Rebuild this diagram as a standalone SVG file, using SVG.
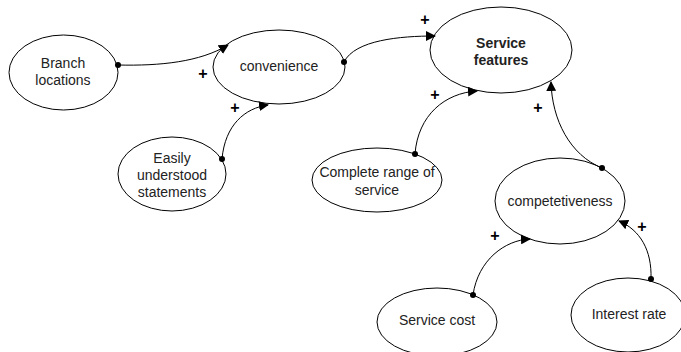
<svg xmlns="http://www.w3.org/2000/svg" width="681" height="352" viewBox="0 0 681 352">
<style>
.n ellipse{fill:#fff;stroke:#000;stroke-width:1}
text{font-family:"Liberation Sans",Arial,sans-serif;font-size:14px;fill:#222;text-anchor:middle}
.b{font-weight:bold}
.e{fill:none;stroke:#000;stroke-width:1}
.d{fill:#000}
.p{font-size:16px;font-weight:bold;fill:#000}
</style>
<defs>
<marker id="ah" viewBox="0 0 10 10" refX="9" refY="5" markerWidth="10" markerHeight="10" markerUnits="userSpaceOnUse" orient="auto">
<path d="M0,0 L10,5 L0,10 Z" fill="#000"/>
</marker>
</defs>
<g id="branch" class="n"><ellipse cx="63.5" cy="72.5" rx="54.5" ry="37.5"/><text x="63" y="68">Branch</text><text x="63" y="85">locations</text></g>
<g id="convenience" class="n"><ellipse cx="279" cy="67" rx="66" ry="37"/><text x="279" y="71">convenience</text></g>
<g id="easily" class="n"><ellipse cx="172" cy="174" rx="54" ry="37"/><text x="172" y="163">Easily</text><text x="172" y="180">understood</text><text x="172" y="197">statements</text></g>
<g id="service" class="n"><ellipse cx="501" cy="50" rx="71" ry="43"/><text class="b" x="501" y="48">Service</text><text class="b" x="501" y="65">features</text></g>
<g id="complete" class="n"><ellipse cx="377" cy="180" rx="65" ry="32"/><text x="377" y="177">Complete range of</text><text x="377" y="195">service</text></g>
<g id="competetiveness" class="n"><ellipse cx="560" cy="201" rx="65" ry="43"/><text x="560" y="206">competetiveness</text></g>
<g id="servicecost" class="n"><ellipse cx="437" cy="322" rx="60" ry="34"/><text x="437" y="325">Service cost</text></g>
<g id="interest" class="n"><ellipse cx="628" cy="315" rx="57" ry="37"/><text x="629" y="319">Interest rate</text></g>
<g id="connectors">
<path class="e" d="M118,65 C160,66 200,62 228,45" marker-end="url(#ah)"/>
<path class="e" d="M222,159 C225,125 245,108 268,105" marker-end="url(#ah)"/>
<path class="e" d="M344,62 C355,40 400,36 435,36" marker-end="url(#ah)"/>
<path class="e" d="M415,154 C418,115 445,93 477,91" marker-end="url(#ah)"/>
<path class="e" d="M602,168 C570,155 552,120 551,82" marker-end="url(#ah)"/>
<path class="e" d="M473,295 C478,260 505,240 530,239" marker-end="url(#ah)"/>
<path class="e" d="M651,279 C652,250 640,230 619,221" marker-end="url(#ah)"/>
<circle class="d" cx="118" cy="65" r="3"/>
<circle class="d" cx="222" cy="159" r="3"/>
<circle class="d" cx="344" cy="62" r="3"/>
<circle class="d" cx="415" cy="154" r="3"/>
<circle class="d" cx="602" cy="168" r="3"/>
<circle class="d" cx="473" cy="295" r="3"/>
<circle class="d" cx="651" cy="279" r="3"/>
<text class="p" x="203" y="79">+</text>
<text class="p" x="235" y="113">+</text>
<text class="p" x="425" y="25">+</text>
<text class="p" x="435" y="100">+</text>
<text class="p" x="538" y="113">+</text>
<text class="p" x="495" y="241">+</text>
<text class="p" x="642" y="232">+</text>
</g>
</svg>
